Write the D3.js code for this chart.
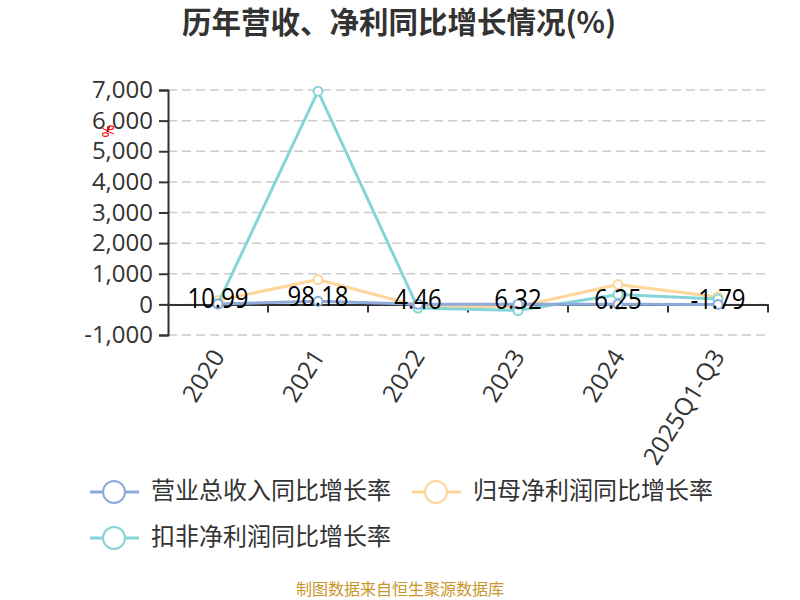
<!DOCTYPE html>
<html>
<head>
<meta charset="utf-8">
<script src="https://cdn.jsdelivr.net/npm/d3@7"></script>
<style>
  body { margin: 0; background: #fff; }
  svg { font-family: "Noto Sans CJK SC", "Noto Sans", sans-serif; }
</style>
</head>
<body>
<svg></svg>
<script>
let categories = ["2020", "2021", "2022", "2023", "2024", "2025Q1-Q3"]
let revenueGrowth = [10.99, 98.18, 4.46, 6.32, 6.25, -1.79]
let profitGrowth = [130, 810, -50, -80, 645, 240]
let deductedGrowth = [20, 6960, -120, -200, 320, 175]
let yTicks = [-1000, 0, 1000, 2000, 3000, 4000, 5000, 6000, 7000]
let seriesNames = ["营业总收入同比增长率", "归母净利润同比增长率", "扣非净利润同比增长率"]
let colors = ["#8eaadb", "#ffd699", "#84d5d8"]

let width = 800
let height = 600
let plotLeft = 168
let plotRight = 768
let plotTop = 90
let plotBottom = 335

let svg = d3.select("svg").attr("width", width).attr("height", height)

let xScale = d3.scaleBand().domain(categories).range([plotLeft, plotRight])
let yScale = d3.scaleLinear().domain([-1000, 7000]).range([plotBottom, plotTop])
let cx = (c) => xScale(c) + xScale.bandwidth() / 2
let numFont = "'Open Sans', 'Noto Sans', sans-serif"

// title
svg.append("text")
   .attr("x", 399).attr("y", 33)
   .attr("text-anchor", "middle")
   .attr("font-size", 29.5).attr("font-weight", "bold")
   .attr("fill", "#333")
   .text("历年营收、净利同比增长情况(%)")

// grid
svg.append("g")
   .selectAll("line")
   .data(yTicks)
   .enter()
   .append("line")
   .attr("x1", plotLeft).attr("x2", plotRight)
   .attr("y1", (d) => yScale(d)).attr("y2", (d) => yScale(d))
   .attr("stroke", "#ccc").attr("stroke-width", 1.5)
   .attr("stroke-dasharray", "9,5")

// y axis
let yAxis = d3.axisLeft(yScale).tickValues(yTicks).tickSize(9).tickPadding(6)
              .tickFormat((d) => d3.format(",")(d).replace("−", "-"))
let yg = svg.append("g").attr("transform", "translate(" + plotLeft + ",0)").call(yAxis)
yg.select(".domain").attr("stroke", "#333").attr("stroke-width", 2)
yg.selectAll(".tick line").attr("stroke", "#333").attr("stroke-width", 2)
yg.selectAll("text").attr("font-size", 24).attr("fill", "#333")
  .attr("font-family", numFont)

// unit
svg.append("text")
   .attr("transform", "translate(106,131) rotate(90)")
   .attr("text-anchor", "middle")
   .attr("dominant-baseline", "middle")
   .attr("font-size", 16).attr("fill", "red")
   .attr("font-family", numFont)
   .text("%")

// x axis at zero
let xAxis = d3.axisBottom(xScale).tickSize(0).tickFormat("")
let xg = svg.append("g").attr("transform", "translate(0," + yScale(0) + ")").call(xAxis)
xg.select(".domain").attr("stroke", "#333").attr("stroke-width", 2)
xg.selectAll(".tick").remove()
let boundaries = categories.map((c) => xScale(c) + xScale.bandwidth())
xg.selectAll("line.tk")
  .data(boundaries)
  .enter()
  .append("line")
  .attr("class", "tk")
  .attr("x1", (d) => d).attr("x2", (d) => d)
  .attr("y1", 0).attr("y2", 8)
  .attr("stroke", "#333").attr("stroke-width", 2)

// x labels
svg.append("g")
   .selectAll("text")
   .data(categories)
   .enter()
   .append("text")
   .attr("transform", (d) => "translate(" + (cx(d) + 2) + "," + (plotBottom + 18) + ") rotate(-58)")
   .attr("text-anchor", "end")
   .attr("dominant-baseline", "middle")
   .attr("font-size", 24.5).attr("fill", "#333")
   .attr("font-family", numFont)
   .text((d) => d)

// lines
let allSeries = [revenueGrowth, profitGrowth, deductedGrowth]
let line = d3.line().x((d, i) => cx(categories[i])).y((d) => yScale(d))
let drawOrder = [1, 2, 0]
drawOrder.forEach((k) => {
  svg.append("path")
     .datum(allSeries[k])
     .attr("d", line)
     .attr("fill", "none")
     .attr("stroke", colors[k]).attr("stroke-width", 3)
  svg.append("g")
     .selectAll("circle")
     .data(allSeries[k])
     .enter()
     .append("circle")
     .attr("cx", (d, i) => cx(categories[i]))
     .attr("cy", (d) => yScale(d))
     .attr("r", 4.5)
     .attr("fill", "#fff")
     .attr("stroke", colors[k]).attr("stroke-width", 2)
})

// revenue labels
svg.append("g")
   .selectAll("text")
   .data(revenueGrowth)
   .enter()
   .append("text")
   .attr("transform", (d, i) => "translate(" + cx(categories[i]) + "," + (yScale(d) - 3) + ") scale(1,1.15)")
   .attr("text-anchor", "middle")
   .attr("dominant-baseline", "middle")
   .attr("font-size", 24).attr("fill", "#000")
   .attr("font-family", numFont)
   .text((d) => d)

// legend
let legendPos = [[90, 492], [412, 492], [90, 538]]
seriesNames.forEach((name, k) => {
  let g = svg.append("g").attr("transform", "translate(" + legendPos[k][0] + "," + legendPos[k][1] + ")")
  g.append("line").attr("x1", 0).attr("x2", 49).attr("y1", 0).attr("y2", 0)
   .attr("stroke", colors[k]).attr("stroke-width", 3)
  g.append("circle").attr("cx", 24).attr("cy", 0).attr("r", 11)
   .attr("fill", "#fff").attr("stroke", colors[k]).attr("stroke-width", 2)
  g.append("text").attr("x", 61).attr("y", 0)
   .attr("dominant-baseline", "middle")
   .attr("font-size", 24).attr("fill", "#333")
   .text(name)
})

// source
svg.append("text")
   .attr("x", 400).attr("y", 595)
   .attr("text-anchor", "middle")
   .attr("font-size", 16).attr("fill", "#c8962a")
   .text("制图数据来自恒生聚源数据库")
</script>
</body>
</html>
